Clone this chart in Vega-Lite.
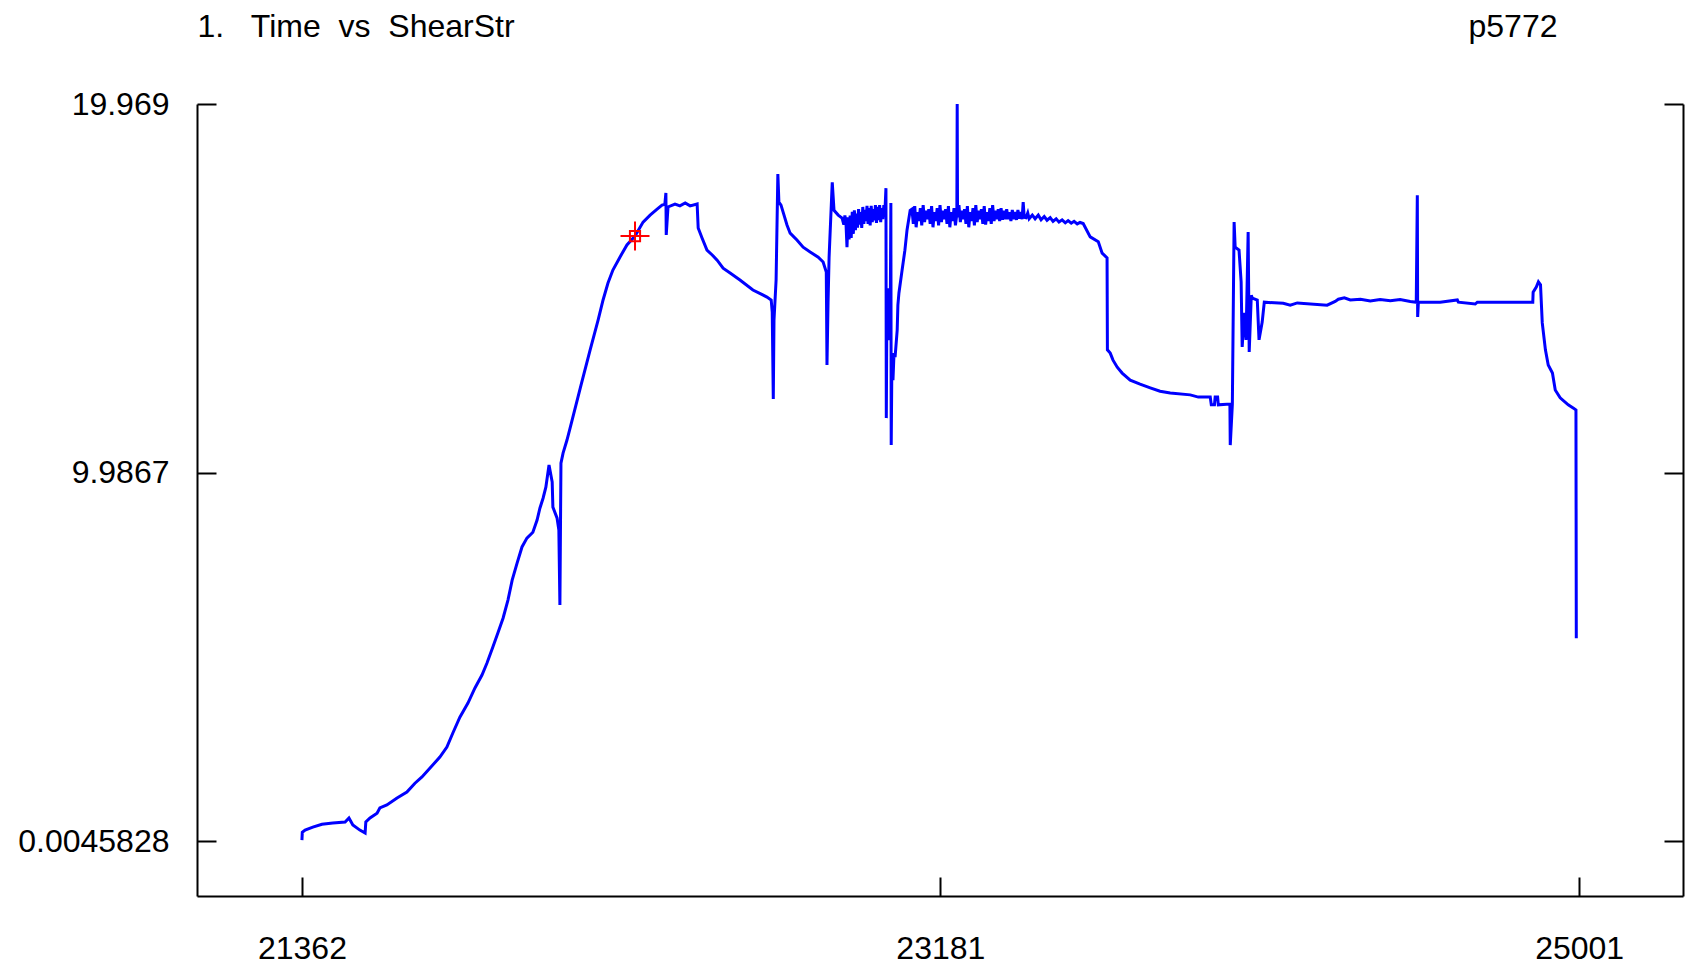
{
  "$schema": "https://vega.github.io/schema/vega-lite/v6.json",
  "width": 1486,
  "height": 792,
  "autosize": {"type": "none"},
  "padding": {"left": 197, "top": 104, "right": 3, "bottom": 77},
  "background": "white",
  "config": {
    "view": {"stroke": null},
    "axis": {
      "labelFont": "Liberation Sans", "titleFont": "Liberation Sans",
      "labelFontSize": 32, "titleFontSize": 32,
      "labelColor": "#000000", "titleColor": "#000000", "titleFontWeight": "normal",
      "domainColor": "#000000", "domainWidth": 2, "tickColor": "#000000", "tickWidth": 2,
      "grid": false, "labelFlush": false, "labelOverlap": false, "labelBound": false
    }
  },
  "resolve": {"scale": {"y": "independent"}},
  "layer": [
    {
      "data": {"values": [
        {"Time":21362,"ShearStr":0.03},{"Time":21363,"ShearStr":0.24},{"Time":21371,"ShearStr":0.30},{"Time":21393,"ShearStr":0.38},
        {"Time":21419,"ShearStr":0.46},{"Time":21450,"ShearStr":0.49},{"Time":21485,"ShearStr":0.52},{"Time":21496,"ShearStr":0.63},
        {"Time":21507,"ShearStr":0.44},{"Time":21527,"ShearStr":0.30},{"Time":21542,"ShearStr":0.22},{"Time":21544,"ShearStr":0.52},
        {"Time":21556,"ShearStr":0.63},{"Time":21576,"ShearStr":0.76},{"Time":21584,"ShearStr":0.90},{"Time":21604,"ShearStr":0.98},
        {"Time":21633,"ShearStr":1.17},{"Time":21661,"ShearStr":1.33},{"Time":21684,"ShearStr":1.57},{"Time":21704,"ShearStr":1.74},
        {"Time":21727,"ShearStr":1.98},{"Time":21755,"ShearStr":2.28},{"Time":21775,"ShearStr":2.55},{"Time":21792,"ShearStr":2.93},
        {"Time":21812,"ShearStr":3.36},{"Time":21835,"ShearStr":3.74},{"Time":21855,"ShearStr":4.15},{"Time":21875,"ShearStr":4.50},
        {"Time":21889,"ShearStr":4.82},{"Time":21906,"ShearStr":5.26},{"Time":21921,"ShearStr":5.66},{"Time":21935,"ShearStr":6.04},
        {"Time":21949,"ShearStr":6.53},{"Time":21961,"ShearStr":7.07},{"Time":21975,"ShearStr":7.53},{"Time":21989,"ShearStr":7.97},
        {"Time":22003,"ShearStr":8.21},{"Time":22020,"ShearStr":8.37},{"Time":22032,"ShearStr":8.70},{"Time":22040,"ShearStr":9.02},
        {"Time":22049,"ShearStr":9.29},{"Time":22057,"ShearStr":9.59},{"Time":22066,"ShearStr":10.19},{"Time":22075,"ShearStr":9.73},
        {"Time":22077,"ShearStr":9.05},{"Time":22089,"ShearStr":8.75},{"Time":22094,"ShearStr":8.43},{"Time":22097,"ShearStr":6.40},
        {"Time":22100,"ShearStr":10.24},{"Time":22106,"ShearStr":10.51},{"Time":22117,"ShearStr":10.86},{"Time":22126,"ShearStr":11.19},
        {"Time":22132,"ShearStr":11.41},{"Time":22157,"ShearStr":12.35},{"Time":22183,"ShearStr":13.30},{"Time":22206,"ShearStr":14.12},
        {"Time":22220,"ShearStr":14.66},{"Time":22234,"ShearStr":15.12},{"Time":22248,"ShearStr":15.47},{"Time":22268,"ShearStr":15.82},
        {"Time":22288,"ShearStr":16.15},{"Time":22311,"ShearStr":16.39},{"Time":22334,"ShearStr":16.77},{"Time":22354,"ShearStr":16.96},
        {"Time":22374,"ShearStr":17.12},{"Time":22388,"ShearStr":17.23},{"Time":22396,"ShearStr":17.25},{"Time":22399,"ShearStr":17.56},
        {"Time":22400,"ShearStr":16.42},{"Time":22405,"ShearStr":17.18},{"Time":22425,"ShearStr":17.26},{"Time":22439,"ShearStr":17.21},
        {"Time":22454,"ShearStr":17.29},{"Time":22468,"ShearStr":17.21},{"Time":22488,"ShearStr":17.26},{"Time":22491,"ShearStr":16.61},
        {"Time":22502,"ShearStr":16.34},{"Time":22516,"ShearStr":16.01},{"Time":22531,"ShearStr":15.88},{"Time":22545,"ShearStr":15.74},
        {"Time":22562,"ShearStr":15.52},{"Time":22582,"ShearStr":15.39},{"Time":22610,"ShearStr":15.20},{"Time":22647,"ShearStr":14.93},
        {"Time":22687,"ShearStr":14.74},{"Time":22699,"ShearStr":14.66},{"Time":22702,"ShearStr":14.33},{"Time":22705,"ShearStr":11.98},
        {"Time":22707,"ShearStr":14.11},{"Time":22713,"ShearStr":15.20},{"Time":22718,"ShearStr":18.07},{"Time":22721,"ShearStr":17.31},
        {"Time":22727,"ShearStr":17.23},{"Time":22733,"ShearStr":17.04},{"Time":22744,"ShearStr":16.69},{"Time":22753,"ShearStr":16.47},
        {"Time":22773,"ShearStr":16.28},{"Time":22790,"ShearStr":16.09},{"Time":22810,"ShearStr":15.96},{"Time":22833,"ShearStr":15.82},
        {"Time":22847,"ShearStr":15.69},{"Time":22856,"ShearStr":15.42},{"Time":22858,"ShearStr":12.90},{"Time":22861,"ShearStr":14.58},
        {"Time":22864,"ShearStr":15.82},{"Time":22873,"ShearStr":17.85},{"Time":22878,"ShearStr":17.09},{"Time":22890,"ShearStr":16.96},
        {"Time":22901,"ShearStr":16.88},{"Time":22906,"ShearStr":16.70},{"Time":22909,"ShearStr":16.95},{"Time":22912,"ShearStr":16.77},
        {"Time":22915,"ShearStr":16.09},{"Time":22918,"ShearStr":16.90},{"Time":22921,"ShearStr":16.30},{"Time":22924,"ShearStr":16.95},
        {"Time":22927,"ShearStr":16.34},{"Time":22930,"ShearStr":17.05},{"Time":22933,"ShearStr":16.45},{"Time":22936,"ShearStr":17.09},
        {"Time":22939,"ShearStr":16.55},{"Time":22942,"ShearStr":17.00},{"Time":22945,"ShearStr":16.62},{"Time":22948,"ShearStr":17.12},
        {"Time":22951,"ShearStr":16.70},{"Time":22954,"ShearStr":17.04},{"Time":22957,"ShearStr":16.61},{"Time":22960,"ShearStr":17.18},
        {"Time":22963,"ShearStr":16.72},{"Time":22966,"ShearStr":17.10},{"Time":22969,"ShearStr":16.80},{"Time":22972,"ShearStr":17.21},
        {"Time":22975,"ShearStr":16.72},{"Time":22978,"ShearStr":17.15},{"Time":22981,"ShearStr":16.68},{"Time":22984,"ShearStr":17.21},
        {"Time":22987,"ShearStr":16.77},{"Time":22990,"ShearStr":17.12},{"Time":22993,"ShearStr":16.82},{"Time":22996,"ShearStr":17.23},
        {"Time":22999,"ShearStr":16.75},{"Time":23002,"ShearStr":17.18},{"Time":23005,"ShearStr":16.82},{"Time":23008,"ShearStr":17.23},
        {"Time":23011,"ShearStr":16.77},{"Time":23014,"ShearStr":17.15},{"Time":23017,"ShearStr":16.85},{"Time":23020,"ShearStr":17.23},
        {"Time":23023,"ShearStr":17.04},{"Time":23026,"ShearStr":17.69},{"Time":23027,"ShearStr":11.46},{"Time":23029,"ShearStr":14.93},
        {"Time":23032,"ShearStr":13.57},{"Time":23035,"ShearStr":14.98},{"Time":23038,"ShearStr":13.71},{"Time":23040,"ShearStr":17.29},
        {"Time":23041,"ShearStr":10.73},{"Time":23043,"ShearStr":13.03},{"Time":23046,"ShearStr":12.49},{"Time":23049,"ShearStr":13.22},
        {"Time":23052,"ShearStr":13.11},{"Time":23058,"ShearStr":13.84},{"Time":23060,"ShearStr":14.52},{"Time":23063,"ShearStr":14.85},
        {"Time":23072,"ShearStr":15.47},{"Time":23080,"ShearStr":16.01},{"Time":23086,"ShearStr":16.55},{"Time":23095,"ShearStr":17.09},
        {"Time":23100,"ShearStr":17.12},{"Time":23104,"ShearStr":16.72},{"Time":23108,"ShearStr":17.20},{"Time":23112,"ShearStr":16.63},
        {"Time":23116,"ShearStr":17.04},{"Time":23120,"ShearStr":16.80},{"Time":23124,"ShearStr":17.15},{"Time":23128,"ShearStr":16.68},
        {"Time":23132,"ShearStr":17.23},{"Time":23136,"ShearStr":16.77},{"Time":23140,"ShearStr":17.08},{"Time":23144,"ShearStr":16.85},
        {"Time":23148,"ShearStr":17.12},{"Time":23152,"ShearStr":16.72},{"Time":23156,"ShearStr":17.20},{"Time":23160,"ShearStr":16.63},
        {"Time":23164,"ShearStr":17.04},{"Time":23168,"ShearStr":16.80},{"Time":23172,"ShearStr":17.15},{"Time":23176,"ShearStr":16.68},
        {"Time":23180,"ShearStr":17.23},{"Time":23184,"ShearStr":16.77},{"Time":23188,"ShearStr":17.08},{"Time":23192,"ShearStr":16.85},
        {"Time":23196,"ShearStr":17.12},{"Time":23200,"ShearStr":16.72},{"Time":23204,"ShearStr":17.20},{"Time":23208,"ShearStr":16.63},
        {"Time":23212,"ShearStr":17.04},{"Time":23216,"ShearStr":16.80},{"Time":23220,"ShearStr":17.15},{"Time":23224,"ShearStr":16.68},
        {"Time":23228,"ShearStr":17.00},{"Time":23229,"ShearStr":19.97},{"Time":23230,"ShearStr":16.90},{"Time":23234,"ShearStr":17.23},
        {"Time":23238,"ShearStr":16.77},{"Time":23242,"ShearStr":17.08},{"Time":23246,"ShearStr":16.85},{"Time":23250,"ShearStr":17.12},
        {"Time":23254,"ShearStr":16.72},{"Time":23258,"ShearStr":17.20},{"Time":23262,"ShearStr":16.63},{"Time":23266,"ShearStr":17.04},
        {"Time":23270,"ShearStr":16.80},{"Time":23274,"ShearStr":17.15},{"Time":23278,"ShearStr":16.68},{"Time":23282,"ShearStr":17.23},
        {"Time":23286,"ShearStr":16.77},{"Time":23290,"ShearStr":17.08},{"Time":23294,"ShearStr":16.85},{"Time":23298,"ShearStr":17.12},
        {"Time":23302,"ShearStr":16.72},{"Time":23306,"ShearStr":17.20},{"Time":23310,"ShearStr":16.70},{"Time":23314,"ShearStr":17.04},
        {"Time":23318,"ShearStr":16.80},{"Time":23322,"ShearStr":17.15},{"Time":23326,"ShearStr":16.72},{"Time":23330,"ShearStr":17.23},
        {"Time":23334,"ShearStr":16.80},{"Time":23338,"ShearStr":17.08},{"Time":23342,"ShearStr":16.85},{"Time":23346,"ShearStr":17.12},
        {"Time":23350,"ShearStr":16.80},{"Time":23354,"ShearStr":17.15},{"Time":23358,"ShearStr":16.83},{"Time":23362,"ShearStr":17.08},
        {"Time":23366,"ShearStr":16.85},{"Time":23370,"ShearStr":17.12},{"Time":23374,"ShearStr":16.85},{"Time":23378,"ShearStr":17.04},
        {"Time":23382,"ShearStr":16.80},{"Time":23386,"ShearStr":17.10},{"Time":23390,"ShearStr":16.85},{"Time":23394,"ShearStr":17.04},
        {"Time":23398,"ShearStr":16.83},{"Time":23402,"ShearStr":17.10},{"Time":23406,"ShearStr":16.86},{"Time":23410,"ShearStr":17.04},
        {"Time":23414,"ShearStr":16.85},{"Time":23417,"ShearStr":17.31},{"Time":23420,"ShearStr":16.90},{"Time":23425,"ShearStr":16.89},
        {"Time":23430,"ShearStr":17.02},{"Time":23434,"ShearStr":16.86},{"Time":23443,"ShearStr":16.96},{"Time":23451,"ShearStr":16.86},
        {"Time":23460,"ShearStr":16.96},{"Time":23468,"ShearStr":16.83},{"Time":23477,"ShearStr":16.92},{"Time":23485,"ShearStr":16.82},
        {"Time":23494,"ShearStr":16.89},{"Time":23502,"ShearStr":16.79},{"Time":23511,"ShearStr":16.86},{"Time":23519,"ShearStr":16.77},
        {"Time":23528,"ShearStr":16.83},{"Time":23537,"ShearStr":16.75},{"Time":23545,"ShearStr":16.81},{"Time":23554,"ShearStr":16.74},
        {"Time":23562,"ShearStr":16.79},{"Time":23571,"ShearStr":16.72},{"Time":23579,"ShearStr":16.76},{"Time":23588,"ShearStr":16.73},
        {"Time":23608,"ShearStr":16.37},{"Time":23631,"ShearStr":16.24},{"Time":23642,"ShearStr":15.93},{"Time":23656,"ShearStr":15.80},
        {"Time":23657,"ShearStr":13.31},{"Time":23665,"ShearStr":13.22},{"Time":23673,"ShearStr":13.03},{"Time":23685,"ShearStr":12.84},
        {"Time":23699,"ShearStr":12.68},{"Time":23722,"ShearStr":12.49},{"Time":23750,"ShearStr":12.38},{"Time":23779,"ShearStr":12.28},
        {"Time":23807,"ShearStr":12.19},{"Time":23836,"ShearStr":12.14},{"Time":23893,"ShearStr":12.09},{"Time":23916,"ShearStr":12.03},
        {"Time":23950,"ShearStr":12.03},{"Time":23953,"ShearStr":11.82},{"Time":23962,"ShearStr":11.82},{"Time":23964,"ShearStr":12.03},
        {"Time":23971,"ShearStr":12.03},{"Time":23973,"ShearStr":11.82},{"Time":24006,"ShearStr":11.84},{"Time":24007,"ShearStr":10.73},
        {"Time":24013,"ShearStr":11.84},{"Time":24018,"ShearStr":16.77},{"Time":24021,"ShearStr":16.09},{"Time":24032,"ShearStr":16.01},
        {"Time":24038,"ShearStr":15.15},{"Time":24041,"ShearStr":13.39},{"Time":24047,"ShearStr":14.31},{"Time":24052,"ShearStr":13.58},
        {"Time":24058,"ShearStr":16.50},{"Time":24061,"ShearStr":13.25},{"Time":24067,"ShearStr":14.79},{"Time":24070,"ShearStr":14.71},
        {"Time":24084,"ShearStr":14.66},{"Time":24089,"ShearStr":13.58},{"Time":24098,"ShearStr":14.06},{"Time":24104,"ShearStr":14.60},
        {"Time":24158,"ShearStr":14.57},{"Time":24178,"ShearStr":14.52},{"Time":24198,"ShearStr":14.58},{"Time":24283,"ShearStr":14.52},
        {"Time":24306,"ShearStr":14.62},{"Time":24315,"ShearStr":14.68},{"Time":24332,"ShearStr":14.72},{"Time":24349,"ShearStr":14.66},
        {"Time":24378,"ShearStr":14.68},{"Time":24406,"ShearStr":14.63},{"Time":24434,"ShearStr":14.67},{"Time":24463,"ShearStr":14.64},
        {"Time":24491,"ShearStr":14.67},{"Time":24520,"ShearStr":14.62},{"Time":24537,"ShearStr":14.60},{"Time":24540,"ShearStr":17.50},
        {"Time":24541,"ShearStr":14.20},{"Time":24543,"ShearStr":14.60},{"Time":24605,"ShearStr":14.60},{"Time":24654,"ShearStr":14.66},
        {"Time":24657,"ShearStr":14.60},{"Time":24705,"ShearStr":14.55},{"Time":24711,"ShearStr":14.60},{"Time":24869,"ShearStr":14.60},
        {"Time":24870,"ShearStr":14.87},{"Time":24879,"ShearStr":15.01},{"Time":24885,"ShearStr":15.15},{"Time":24891,"ShearStr":15.07},
        {"Time":24896,"ShearStr":14.04},{"Time":24905,"ShearStr":13.31},{"Time":24913,"ShearStr":12.90},{"Time":24925,"ShearStr":12.68},
        {"Time":24933,"ShearStr":12.22},{"Time":24947,"ShearStr":12.01},{"Time":24970,"ShearStr":11.82},{"Time":24985,"ShearStr":11.73},
        {"Time":24992,"ShearStr":11.68},{"Time":24993,"ShearStr":5.50}
      ]},
      "mark": {"type": "line", "color": "#0000ff", "strokeWidth": 3, "clip": false},
      "encoding": {
        "x": {
          "field": "Time", "type": "quantitative",
          "scale": {"domain": [21063, 25297], "nice": false, "zero": false},
          "axis": {"orient": "bottom", "values": [21362, 23181, 25001], "format": "d", "tickSize": -19,
                   "labelPadding": 81, "labelBaseline": "alphabetic", "labelAlign": "center", "title": null}
        },
        "y": {
          "field": "ShearStr", "type": "quantitative",
          "scale": {"domain": [-1.485, 19.969], "nice": false, "zero": false},
          "axis": {"orient": "left", "values": [0.0045828, 9.9867, 19.969],
                   "labelExpr": "datum.value < 1 ? '0.0045828' : datum.value < 15 ? '9.9867' : '19.969'",
                   "tickSize": -19, "labelPadding": 47, "labelBaseline": "middle", "labelAlign": "right",
                   "title": "1.\u00a0\u00a0\u00a0Time\u00a0\u00a0vs\u00a0\u00a0ShearStr", "titleAngle": 0, "titleAlign": "left",
                   "titleBaseline": "alphabetic", "titleX": 0, "titleY": -68}
        }
      }
    },
    {
      "data": {"values": [{"Time": 22311, "ShearStr": 16.39}]},
      "mark": {"type": "point", "shape": "M-1,0H1M0,-1V1M-0.35,-0.35H0.35V0.35H-0.35Z", "size": 841,
               "filled": false, "stroke": "#ff0000", "strokeWidth": 2, "opacity": 1},
      "encoding": {
        "x": {"field": "Time", "type": "quantitative", "scale": {"domain": [21063, 25297], "nice": false, "zero": false}},
        "y": {
          "field": "ShearStr", "type": "quantitative",
          "scale": {"domain": [-1.485, 19.969], "nice": false, "zero": false},
          "axis": {"orient": "right", "values": [0.0045828, 9.9867, 19.969], "labels": false, "tickSize": -19,
                   "title": "p5772", "titleAngle": 0, "titleAlign": "right", "titleBaseline": "alphabetic",
                   "titleX": -126, "titleY": -68}
        }
      }
    }
  ]
}
